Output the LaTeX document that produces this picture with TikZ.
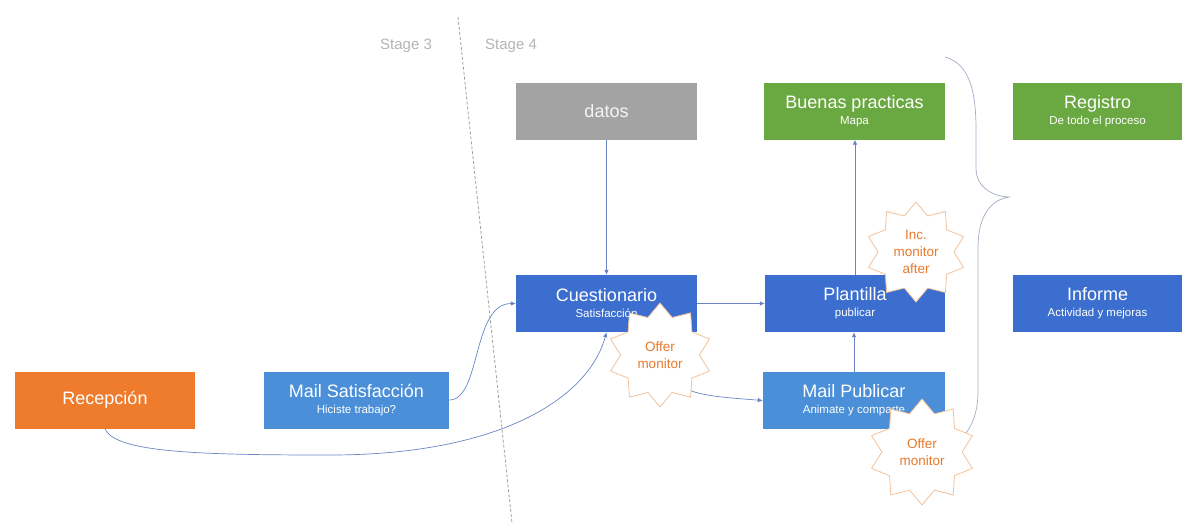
\documentclass[tikz,border=0pt]{standalone}
\usepackage{fontspec}
\setmainfont{Liberation Sans}
\usetikzlibrary{arrows.meta,shapes.geometric}

\definecolor{orangebox}{HTML}{EF7B2D}
\definecolor{lightblue}{HTML}{4A8FD8}
\definecolor{darkblue}{HTML}{3B6ECE}
\definecolor{greenbox}{HTML}{6AA842}
\definecolor{graybox}{HTML}{A3A3A3}
\definecolor{connector}{HTML}{6A84C4}
\definecolor{starline}{HTML}{F3C29A}
\definecolor{startext}{HTML}{E8792B}
\definecolor{stagegray}{HTML}{B4B4B4}
\definecolor{bracegray}{HTML}{A4ACC4}

\tikzset{
  card/.style={minimum height=57pt, inner sep=0pt, align=center,
    text=white, font=\fontsize{18}{16}\selectfont},
  conn/.style={draw=connector, line width=0.7pt,
    -{Latex[length=5pt,width=4.5pt]}},
  burst/.style={star, star points=10, star point ratio=1.32,
    minimum size=#1, inner sep=0pt, draw=starline, fill=white,
    line width=0.8pt, text=startext, align=center,
    font=\fontsize{13.5}{17}\selectfont},
  stagelabel/.style={text=stagegray, font=\fontsize{15}{16}\selectfont}
}

\newcommand{\cardtext}[2]{#1\\{\fontsize{11.5}{16}\selectfont #2}}

\begin{document}
\begin{tikzpicture}[x=1pt,y=-1pt]
  \useasboundingbox (0,0) rectangle (1182,523);

  % stage separator and labels
  \draw[draw=gray!75, line width=0.8pt, dash pattern=on 3pt off 2pt] (458,17) -- (512,523);
  \node[stagelabel] (s3) at (406,46) {Stage 3};
  \node[stagelabel] (s4) at (511,46) {Stage 4};

  % process cards
  \node[card, fill=orangebox, minimum width=180pt] (rec) at (105,400) {Recepción};
  \node[card, fill=lightblue, minimum width=185pt] (msat) at (356.5,400)
    {\cardtext{Mail Satisfacción}{Hiciste trabajo?}};
  \node[card, fill=graybox, minimum width=181pt, text=white!92!gray] (datos) at (606.5,111) {datos};
  \node[card, fill=darkblue, minimum width=181pt] (cue) at (606.5,303.5)
    {\cardtext{Cuestionario}{Satisfacción}};
  \node[card, fill=greenbox, minimum width=181pt] (buenas) at (854.5,111)
    {\cardtext{Buenas practicas}{Mapa}};
  \node[card, fill=darkblue, minimum width=180pt] (plant) at (855,303.5)
    {\cardtext{Plantilla}{publicar}};
  \node[card, fill=lightblue, minimum width=182pt] (mpub) at (854,400.5)
    {\cardtext{Mail Publicar}{Animate y comparte}};
  \node[card, fill=greenbox, minimum width=169pt] (reg) at (1097.5,111)
    {\cardtext{Registro}{De todo el proceso}};
  \node[card, fill=darkblue, minimum width=169pt] (inf) at (1097.5,303.5)
    {\cardtext{Informe}{Actividad y mejoras}};

  % connectors
  \coordinate (low) at (330,455);
  \coordinate (om1c) at (660,355);
  \draw[conn] (datos.south) -- (cue.north);
  \draw[conn] (msat.east) .. controls +(32,0) and +(-44,0) .. (cue.west);
  \draw[conn] (rec.south) .. controls +(10,24) and +(-130,0) .. (low)
    .. controls +(170,0) and +(-18,66) .. (cue.south);
  \draw[conn] (cue.east) -- (plant.west);
  \draw[conn] (om1c) .. controls +(10,40) and +(-63,-5) .. (mpub.west);
  \draw[conn] (mpub.north) -- (mpub.north |- plant.south);
  \draw[conn] (plant.north) -- (plant.north |- buenas.south);

  % grouping brace on the right
  \draw[draw=bracegray, line width=0.7pt]
    (945,57) .. controls (971,64) and (976,95) .. (976,130) -- (976,168)
    .. controls (976,188) and (994,197) .. (1010,197)
    .. controls (992,199) and (978,214) .. (978,248) -- (978,392)
    .. controls (978,420) and (966,440) .. (948,446);

  % monitor bursts
  \node[burst=104pt] (om1) at (om1c) {Offer\\monitor};
  \node[burst=100pt] (inc) at (916,252) {Inc.\\monitor\\after};
  \node[burst=106pt] (om2) at (922,452) {Offer\\monitor};
\end{tikzpicture}
\end{document}
